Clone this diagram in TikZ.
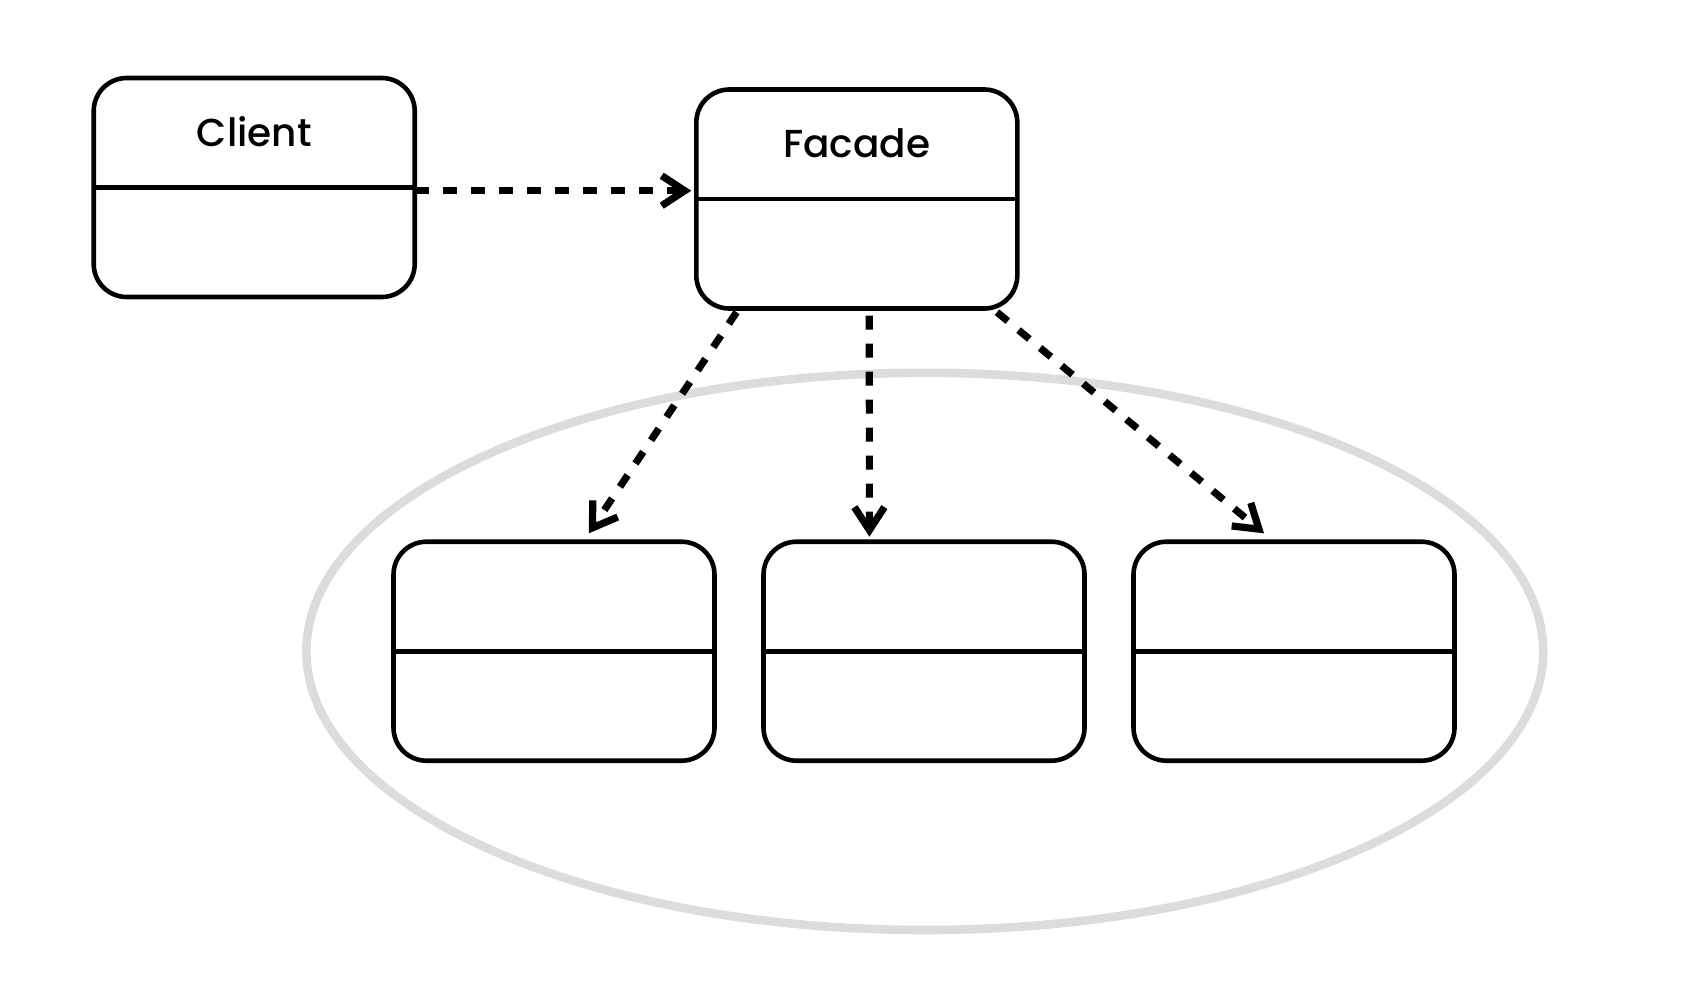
\documentclass[tikz,border=0pt]{standalone}
\usepackage{fontspec}
\setmainfont{Poppins Medium}
\usetikzlibrary{positioning, arrows.meta}
\definecolor{groupgray}{HTML}{DCDCDC}
\tikzset{
        >={Straight Barb[length=11.5pt, width=15pt]}, % open arrow heads
        node distance=24.5pt, % gap between the subsystem classes
    }
\tikzset{
      class box/.style={
		draw,
		line width=2.3pt,
		outer sep=0pt,
		rounded corners=16.5pt,
		minimum width=160.5pt,
		minimum height=109.5pt,
		path picture={\draw[line width=2.3pt] (path picture bounding box.west) -- (path picture bounding box.east);},
	  },
  		class title/.style={
    	font=\fontsize{19.5pt}{23pt}\selectfont,
    	yshift=28pt,
      },
  		uses/.style={
    	->, dash pattern=on 7pt off 7pt, line width=3.6pt,
      },
  		group/.style={
    	draw=groupgray, line width=4.3pt,
      }
  	}
\begin{document}
\begin{tikzpicture}
    \useasboundingbox (0pt,0pt) rectangle (843.5pt,-498.5pt);
    \draw [group] (462.4pt,-325.7pt) ellipse [x radius=309.2pt, y radius=139.3pt];
    \node [class box, label={[class title]center:Client}] (client) at (127.1pt,-93.75pt) {};
    \node [class box, label={[class title]center:Facade}] (facade) at (428.4pt,-99.5pt) {};
    \node [class box] (sub1) at (277pt,-325.6pt) {};
    \node [class box, right=of sub1] (sub2) {};
    \node [class box, right=of sub2] (sub3) {};
    \draw [uses, shorten >=2.5pt] ([yshift=-1.6pt]client.east) -- ([yshift=-1.6pt]client.east -| facade.west);
    \draw [uses] ([xshift=-60.1pt,yshift=-1.85pt]facade.south) -- ([xshift=17.4pt,yshift=4.2pt]sub1.north);
    \draw [uses] ([xshift=6.25pt,yshift=-3.5pt]facade.south) -- ([xshift=-27.3pt,yshift=2.5pt]sub2.north);
    \draw [uses] ([xshift=70.1pt,yshift=-1.85pt]facade.south) -- ([xshift=-15pt,yshift=4.2pt]sub3.north);
\end{tikzpicture}
\end{document}
